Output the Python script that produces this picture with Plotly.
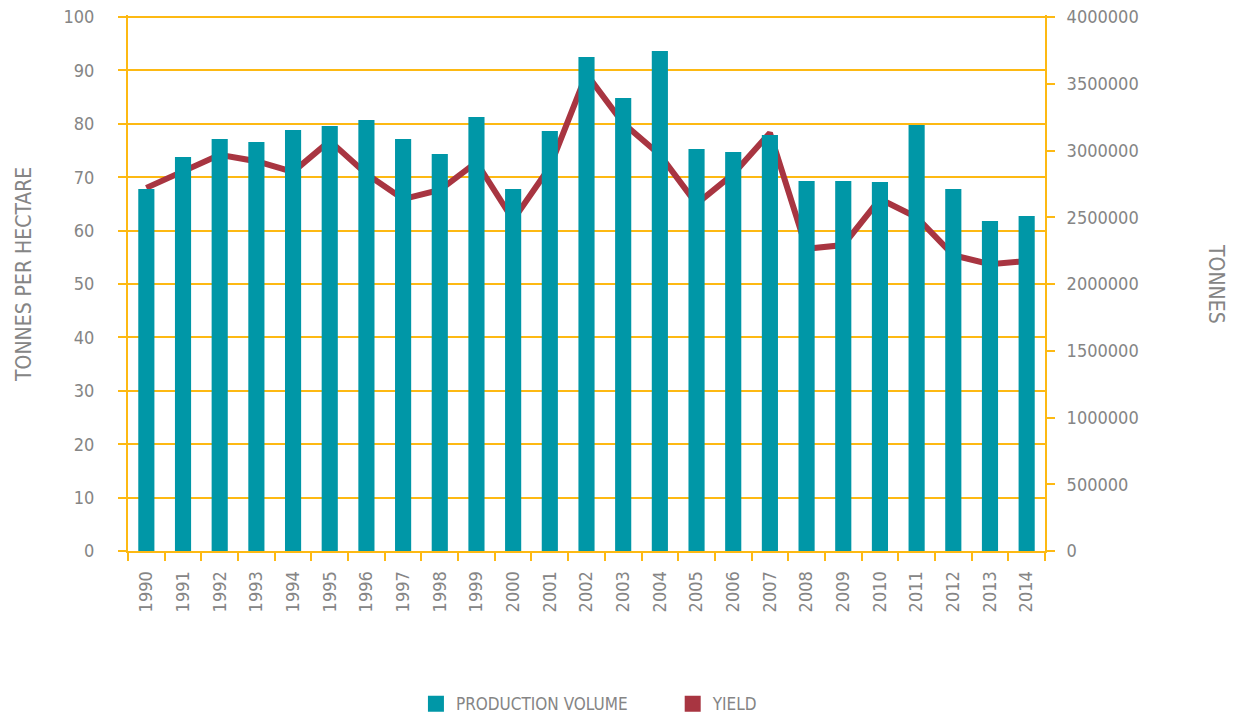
import plotly.graph_objects as go

years = [str(y) for y in range(1990, 2015)]

# production volume, tonnes (right axis)
production = [2711000, 2951000, 3086000, 3064000, 3154000, 3184000, 3228000, 3086000,
              2974000, 3251000, 2711000, 3146000, 3700000, 3393000, 3745000, 3011000,
              2989000, 3116000, 2772000, 2772000, 2764000, 3191000, 2711000, 2472000,
              2509000]

# yield, tonnes per hectare (left axis)
yield_tph = [68.0, 71.0, 74.2, 73.0, 71.0, 76.8, 70.6, 65.9, 67.6, 72.8, 62.0, 71.9,
             89.3, 80.1, 74.2, 65.0, 70.6, 78.3, 56.6, 57.3, 65.9, 62.5, 55.4, 53.7,
             54.3]

TEAL = '#0097A7'
RED = '#A83541'
AMBER = '#FDB913'
GREY = '#858585'
FONT = 'DejaVu Sans Condensed, Roboto, sans-serif'

# a touch of headroom so the 100 gridline is drawn inside the plot area
Y_TOP = 100.375
Y2_TOP = 4015000

bars = go.Bar(
    x=years, y=production, yaxis='y2',
    marker=dict(color=TEAL, line=dict(width=0)),
    showlegend=False,
)
line = go.Scatter(
    x=years, y=yield_tph, yaxis='y',
    mode='lines', line=dict(color=RED, width=6),
    showlegend=False,
)
# square legend swatches, one legend each so they can be spaced apart
leg_prod = go.Scatter(x=[None], y=[None], mode='markers', name='PRODUCTION VOLUME',
                      marker=dict(symbol='square', size=16, color=TEAL), legend='legend')
leg_yield = go.Scatter(x=[None], y=[None], mode='markers', name='YIELD',
                       marker=dict(symbol='square', size=16, color=RED), legend='legend2')

fig = go.Figure(data=[bars, line, leg_prod, leg_yield])

axis_style = dict(
    showline=True, linecolor=AMBER, linewidth=2,
    ticks='outside', ticklen=8, tickwidth=2, tickcolor=AMBER,
    tickfont=dict(family=FONT, size=18, color=GREY),
    zeroline=False, automargin=False, ticklabeloverflow='allow',
)
legend_style = dict(
    orientation='h', y=-0.286, yanchor='middle', xanchor='left',
    font=dict(family=FONT, size=17, color=GREY),
)

fig.update_layout(
    width=1236, height=719,
    margin=dict(l=128, r=191, t=15, b=168, autoexpand=False),
    plot_bgcolor='white', paper_bgcolor='white',
    bargap=0.56,
    font=dict(family=FONT, color=GREY),
    xaxis=dict(
        **axis_style, type='category', tickangle=-90, tickson='boundaries',
        showgrid=False, ticklabelstandoff=11,
    ),
    yaxis=dict(
        **axis_style, range=[0, Y_TOP], tick0=0, dtick=10,
        showgrid=True, gridcolor=AMBER, gridwidth=2, ticklabelstandoff=20,
    ),
    yaxis2=dict(
        **axis_style, range=[0, Y2_TOP], tick0=0, dtick=500000, tickformat='d',
        overlaying='y', side='right', showgrid=False, ticklabelstandoff=8,
    ),
    legend=dict(**legend_style, x=0.314),
    legend2=dict(**legend_style, x=0.594),
    annotations=[
        dict(text='TONNES PER HECTARE', xref='paper', yref='paper', x=-0.1134, y=0.515,
             xanchor='center', yanchor='middle', textangle=-90, showarrow=False,
             font=dict(family=FONT, size=21, color=GREY)),
        dict(text='TONNES', xref='paper', yref='paper', x=1.1865, y=0.498,
             xanchor='center', yanchor='middle', textangle=90, showarrow=False,
             font=dict(family=FONT, size=21, color=GREY)),
    ],
)

fig.write_html(
    'out.html',
    config=dict(displayModeBar=False),
    post_script="document.body.style.margin = '0';",
)
